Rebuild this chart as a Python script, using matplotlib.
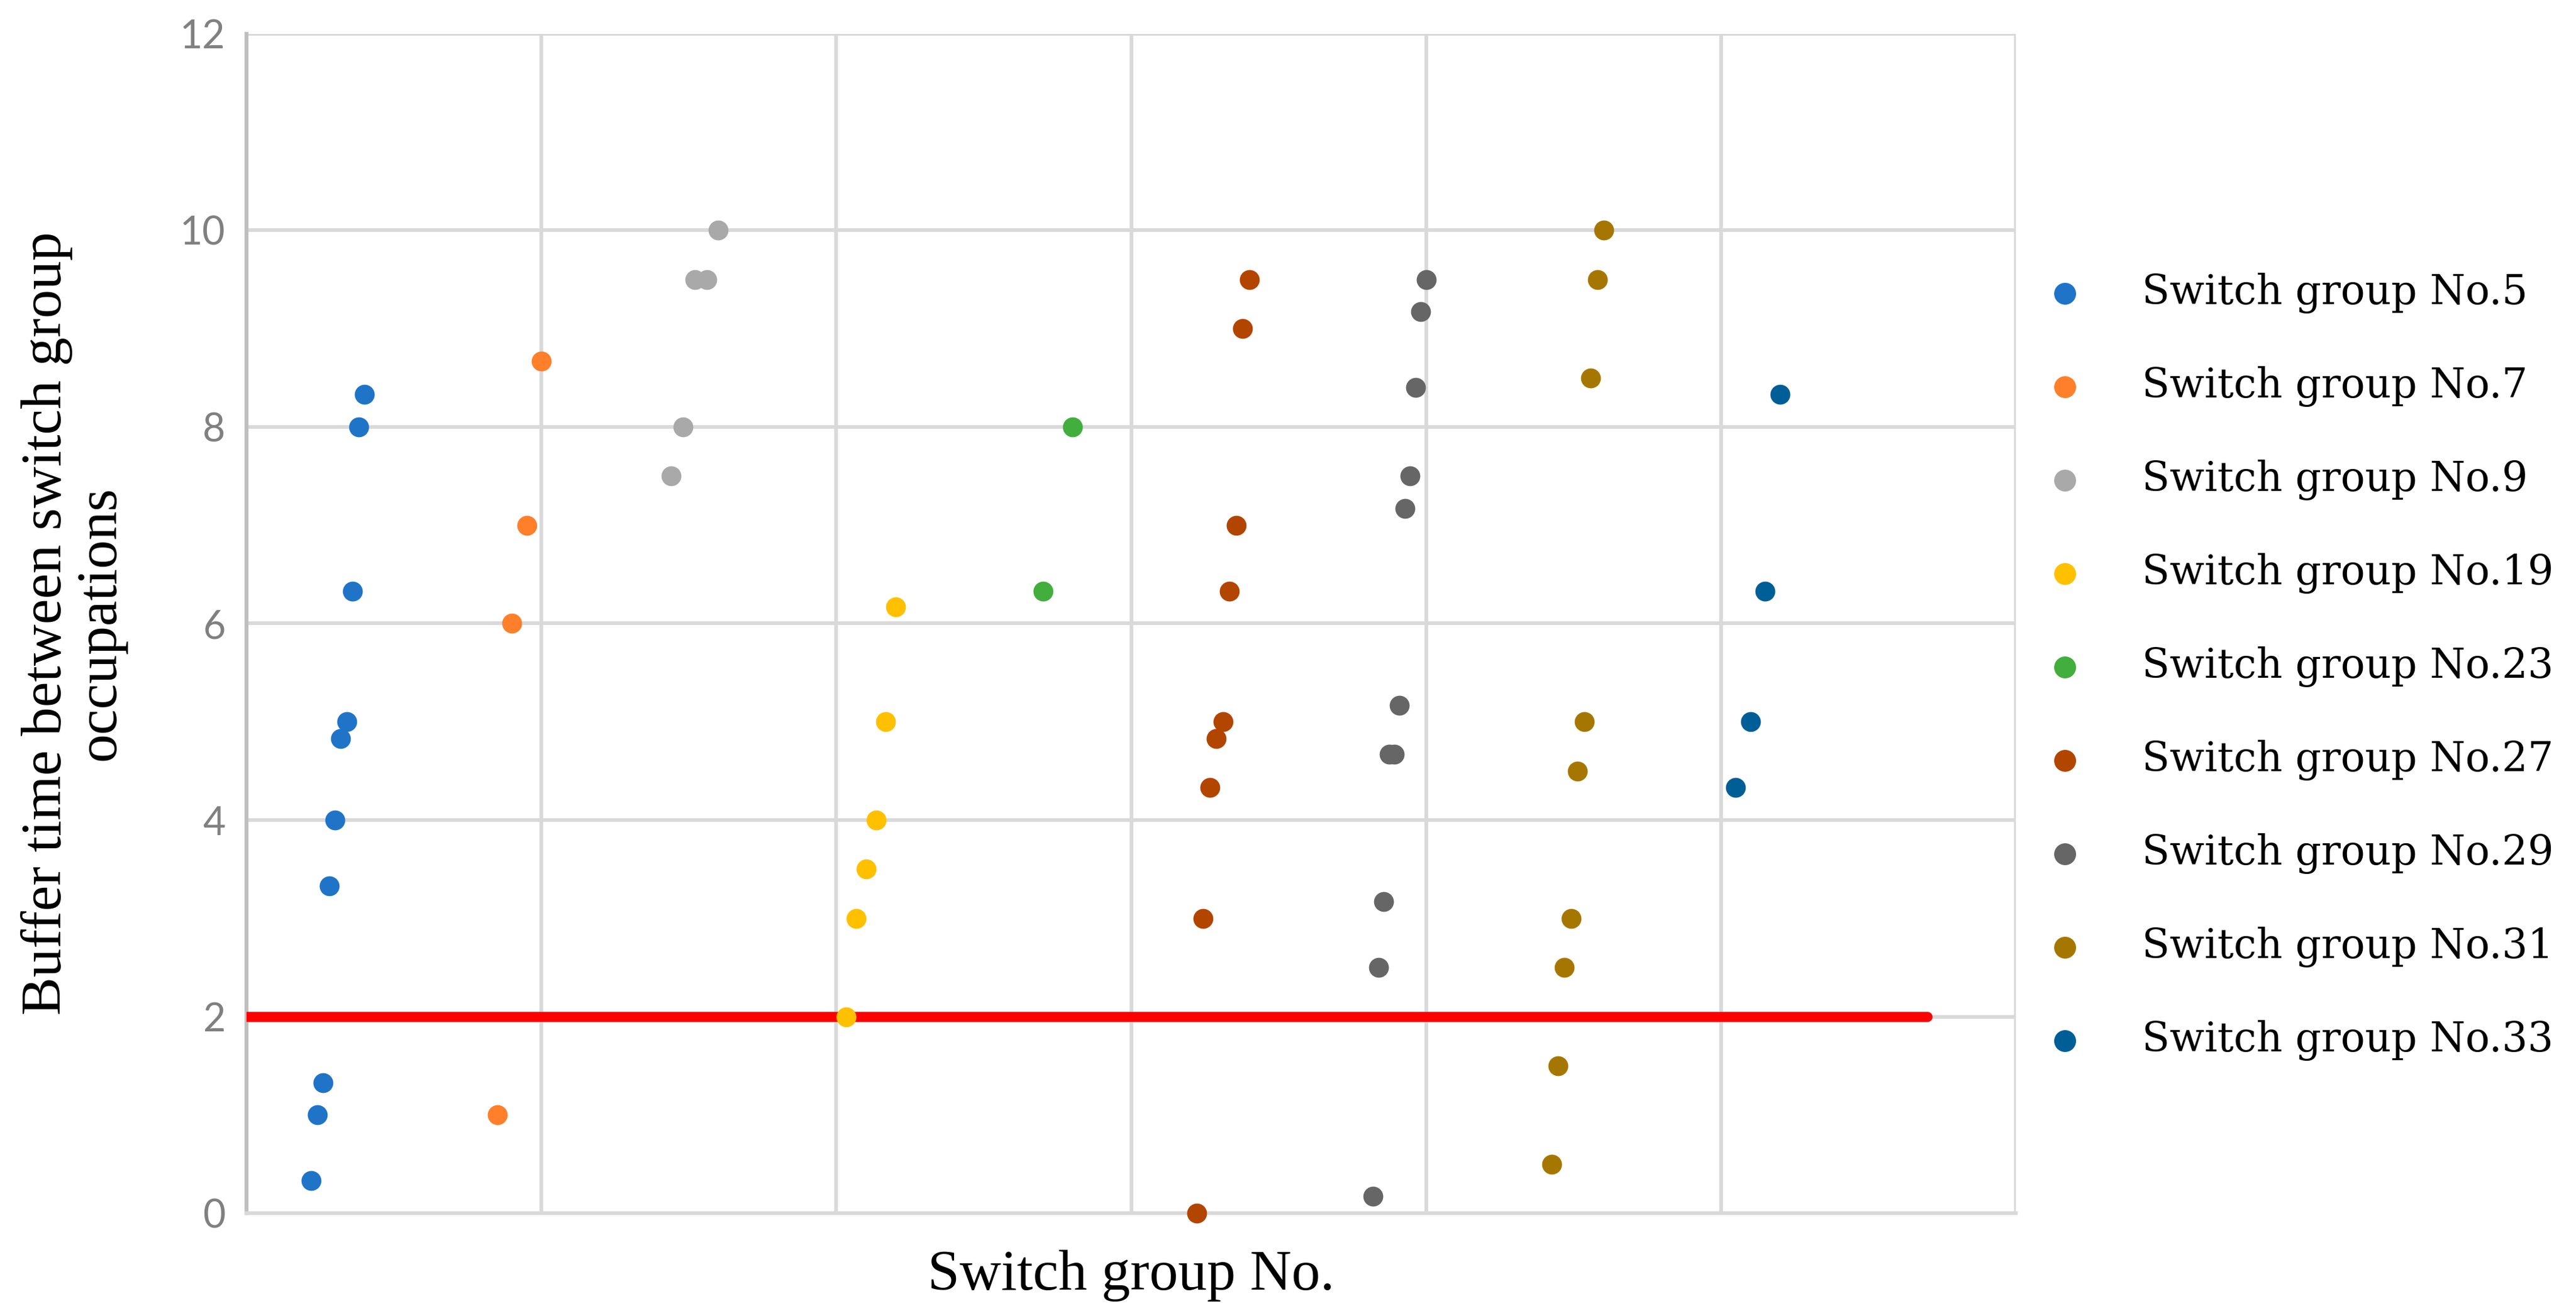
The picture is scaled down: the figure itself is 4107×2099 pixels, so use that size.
import matplotlib.pyplot as plt

# Datos: posicion x (dentro del grafico) y tiempo de buffer por grupo de agujas
labels = ['Switch group No.5', 'Switch group No.7', 'Switch group No.9',
          'Switch group No.19', 'Switch group No.23', 'Switch group No.27',
          'Switch group No.29', 'Switch group No.31', 'Switch group No.33']
colors = ['#1F74C8', '#FF7F2A', '#A9A9A9', '#FFC000', '#42AE3E',
          '#B24500', '#666666', '#A67700', '#005E96']

x5 = [0.22, 0.24, 0.26, 0.28, 0.30, 0.32, 0.34, 0.36, 0.38, 0.40]
y5 = [0.33, 1.0, 1.33, 3.33, 4.0, 4.83, 5.0, 6.33, 8.0, 8.33]
x7 = [0.85, 0.90, 0.95, 1.00]
y7 = [1.0, 6.0, 7.0, 8.67]
x9 = [1.44, 1.48, 1.52, 1.56, 1.60]
y9 = [7.5, 8.0, 9.5, 9.5, 10.0]
x19 = [2.034, 2.068, 2.101, 2.135, 2.168, 2.202]
y19 = [2.0, 3.0, 3.5, 4.0, 5.0, 6.17]
x23 = [2.70, 2.80]
y23 = [6.33, 8.0]
x27 = [3.222, 3.244, 3.267, 3.289, 3.311, 3.333, 3.356, 3.378, 3.400]
y27 = [0.0, 3.0, 4.33, 4.83, 5.0, 6.33, 7.0, 9.0, 9.5]
x29 = [3.820, 3.838, 3.856, 3.874, 3.892, 3.910, 3.928, 3.946, 3.964, 3.982, 4.000]
y29 = [0.17, 2.5, 3.17, 4.67, 4.67, 5.17, 7.17, 7.5, 8.4, 9.17, 9.5]
x31 = [4.425, 4.447, 4.469, 4.491, 4.514, 4.536, 4.558, 4.581, 4.603]
y31 = [0.5, 1.5, 2.5, 3.0, 4.5, 5.0, 8.5, 9.5, 10.0]
x33 = [5.05, 5.10, 5.15, 5.20]
y33 = [4.33, 5.0, 6.33, 8.33]

xs = [x5, x7, x9, x19, x23, x27, x29, x31, x33]
ys = [y5, y7, y9, y19, y23, y27, y29, y31, y33]

# Umbral minimo de buffer (linea roja)
umbral = 2
umbral_x = [0, 5.7]

yticks = [0, 2, 4, 6, 8, 10, 12]

fig = plt.figure(figsize=(13.69, 6.997), dpi=300)
ax = fig.add_axes([0.0957, 0.0781, 0.6869, 0.8962])

ax.plot(umbral_x, [umbral, umbral], color='#FF0000', linewidth=3.9,
        solid_capstyle='round', zorder=3)

for x, y, c, lab in zip(xs, ys, colors, labels):
    ax.scatter(x, y, s=58, color=c, linewidths=0, label=lab, zorder=4, clip_on=False)

ax.set_xlim(0, 6)
ax.set_ylim(0, 12)
ax.set_xticks(range(0, 7))
ax.set_xticklabels([])
ax.set_yticks(yticks)
ax.set_yticklabels([str(v) for v in yticks], fontfamily='Lato', fontsize=15, color='#808080')
ax.tick_params(length=0, pad=8)
ax.grid(True, color='#D9D9D9', linewidth=1.4, zorder=0)
ax.set_axisbelow(True)

for s in ['top', 'right']:
    ax.spines[s].set_visible(False)
ax.spines['left'].set_color('#BFBFBF')
ax.spines['left'].set_linewidth(1.5)
ax.spines['bottom'].set_color('#D9D9D9')
ax.spines['bottom'].set_linewidth(1.4)

ax.set_xlabel('Switch group No.', fontfamily='Liberation Serif', fontsize=22, labelpad=6)
ax.set_ylabel('Buffer time between switch group\noccupations', fontfamily='Liberation Serif',
              fontsize=22, linespacing=1.05, multialignment='center')
ax.yaxis.set_label_coords(-0.068, 0.5)

fig.legend(loc='center left', bbox_to_anchor=(0.7937, 0.4934), frameon=False,
           prop={'family': 'DejaVu Serif', 'size': 15.5}, handlelength=1.0,
           handletextpad=1.4, labelspacing=1.30, borderpad=0, borderaxespad=0,
           scatterpoints=1, markerscale=1.1)

fig.savefig('out.png', dpi=300)
